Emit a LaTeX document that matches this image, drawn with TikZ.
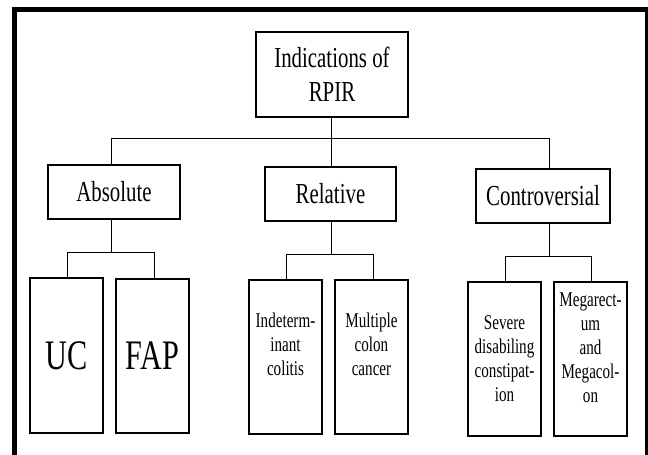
\documentclass[tikz,border=0pt]{standalone}
\usepackage{fontspec}
\newfontfamily\tnr[FakeStretch=0.72]{Liberation Serif}
\begin{document}
\begin{tikzpicture}[x=1pt,y=-1pt,
  box/.style={draw, line width=1.4pt, inner sep=0pt, align=center,
    font=\tnr\fontsize{29}{34}\selectfont},
  leaf/.style={draw, line width=1.4pt, inner sep=0pt, minimum width=73pt,
    minimum height=154pt, align=center, font=\tnr\fontsize{21}{24}\selectfont},
  leaftext/.style={inner sep=0pt, align=center, font=\tnr\fontsize{21}{24}\selectfont},
  big/.style={font=\tnr\fontsize{42}{48}\selectfont},
  conn/.style={line width=1pt}]
\useasboundingbox (0,0) rectangle (648,455);
\fill[white] (0,0) rectangle (648,455);
\draw[line width=5pt] (14.5,460) -- (14.5,9.5) -- (647,9.5) -- (647,460);

% level 0
\node[box, minimum width=152pt, minimum height=85pt] (top) at (332,74.5) {Indications of\\RPIR};
% level 1
\node[box, minimum width=132pt, minimum height=54pt] (abs) at (114,192) {Absolute};
\node[box, minimum width=131pt, minimum height=54pt] (rel) at (330.5,194) {Relative};
\node[box, minimum width=134pt, minimum height=54pt] (con) at (543,196) {Controversial};
% level 2
\node[leaf, minimum height=155pt, big] (uc) at (66.5,355.5) {UC};
\node[leaf, big] (fap) at (152.5,356) {FAP};
\node[leaf] (ind) at (285.5,357) {};
\node[leaf] (mul) at (371.5,357) {};
\node[leaf] (sev) at (504.5,359) {Severe\\disabiling\\constipat-\\ion};
\node[leaf] (meg) at (590.5,359) {};
\node[leaftext] (indt) at (285.5,344) {Indeterm-\\inant\\colitis};
\node[leaftext] (mult) at (371.5,344) {Multiple\\colon\\cancer};
\node[leaftext] (megt) at (590.5,348) {Megarect-\\um\\and\\Megacol-\\on};

% bus coordinates
\coordinate (b0) at (331,138);
\coordinate (b1) at (111,138);
\coordinate (b2) at (331,138);
\coordinate (b3) at (549,138);
\coordinate (a0) at (111,252);
\coordinate (a1) at (67,252);
\coordinate (a2) at (154,252);
\coordinate (r0) at (331,254);
\coordinate (r1) at (286,254);
\coordinate (r2) at (373,254);
\coordinate (c0) at (549,256);
\coordinate (c1) at (505,256);
\coordinate (c2) at (591,256);

\draw[conn] (top.south -| b0) -- (b0);
\draw[conn] (b1) -- (b3);
\draw[conn] (b1) -- (b1 |- abs.north);
\draw[conn] (b2) -- (b2 |- rel.north);
\draw[conn] (b3) -- (b3 |- con.north);

\draw[conn] (abs.south -| a0) -- (a0);
\draw[conn] (a1) -- (a2);
\draw[conn] (a1) -- (a1 |- uc.north);
\draw[conn] (a2) -- (a2 |- fap.north);

\draw[conn] (rel.south -| r0) -- (r0);
\draw[conn] (r1) -- (r2);
\draw[conn] (r1) -- (r1 |- ind.north);
\draw[conn] (r2) -- (r2 |- mul.north);

\draw[conn] (con.south -| c0) -- (c0);
\draw[conn] (c1) -- (c2);
\draw[conn] (c1) -- (c1 |- sev.north);
\draw[conn] (c2) -- (c2 |- meg.north);
\end{tikzpicture}
\end{document}
